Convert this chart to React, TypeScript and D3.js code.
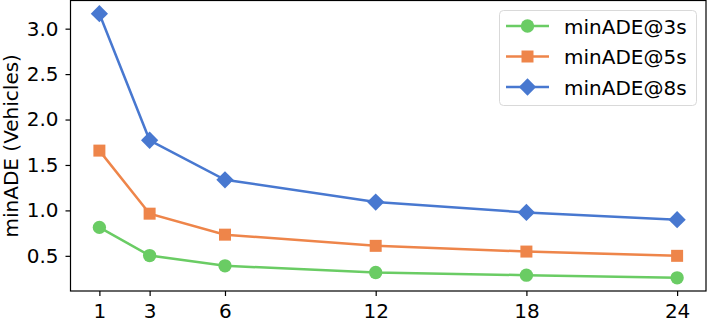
import { useEffect, useRef } from "react";
import * as d3 from "d3";

// horizon values on the x axis
const horizons = [1, 3, 6, 12, 18, 24];
const ade3s = [0.813, 0.503, 0.39, 0.317, 0.287, 0.258];
const ade5s = [1.658, 0.964, 0.733, 0.61, 0.547, 0.5];
const ade8s = [3.165, 1.772, 1.337, 1.092, 0.978, 0.898];
const yTicks = [0.5, 1.0, 1.5, 2.0, 2.5, 3.0];
const seriesNames = ["minADE@3s", "minADE@5s", "minADE@8s"];

const W = 707;
const H = 323;
const FONT = "DejaVu Sans, sans-serif";

export default function App() {
  const ref = useRef<SVGSVGElement>(null);

  useEffect(() => {
    const svg = d3.select(ref.current);
    svg.selectAll("*").remove();

    const left = 70.5, right = 706, top = 0.5, bottom = 291;

    const x = d3.scaleLinear().domain([-0.15, 25.15]).range([left, right]);
    const y = d3.scaleLinear().domain([0.113, 3.31]).range([bottom, top]);

    const series = [
      { name: seriesNames[0], values: ade3s, color: "#6acc64", shape: "circle" },
      { name: seriesNames[1], values: ade5s, color: "#ee854a", shape: "square" },
      { name: seriesNames[2], values: ade8s, color: "#4878d0", shape: "diamond" },
    ];

    const symbolFor = (shape: string) => {
      if (shape === "circle") return d3.symbol(d3.symbolCircle, 140)();
      if (shape === "square") return d3.symbol(d3.symbolSquare, 144)();
      return d3.symbol(d3.symbolDiamond2, 190)();
    };

    const line = d3
      .line<number>()
      .x((_, i) => x(horizons[i]))
      .y((d) => y(d));

    const g = svg.append("g");

    series.forEach((s) => {
      g.append("path")
        .datum(s.values)
        .attr("fill", "none")
        .attr("stroke", s.color)
        .attr("stroke-width", 2.5)
        .attr("d", line);
      g.selectAll(null)
        .data(s.values)
        .enter()
        .append("path")
        .attr("d", symbolFor(s.shape))
        .attr("transform", (d, i) => `translate(${x(horizons[i])},${y(d)})`)
        .attr("fill", s.color);
    });

    // frame
    svg.append("rect")
      .attr("x", left)
      .attr("y", top)
      .attr("width", right - left)
      .attr("height", bottom - top)
      .attr("fill", "none")
      .attr("stroke", "#000")
      .attr("stroke-width", 1.2);

    // x axis
    const xAxis = svg.append("g").attr("transform", `translate(0,${bottom})`);
    xAxis.call(d3.axisBottom(x).tickValues(horizons).tickSize(5).tickPadding(8).tickFormat(d3.format("d")));
    xAxis.select(".domain").remove();
    xAxis.selectAll("text").attr("font-size", 20).attr("font-family", FONT).attr("fill", "#000");
    xAxis.selectAll("line").attr("stroke", "#000").attr("stroke-width", 1.2);

    const yAxis = svg.append("g").attr("transform", `translate(${left},0)`);
    yAxis.call(d3.axisLeft(y).tickValues(yTicks).tickSize(5).tickPadding(7).tickFormat(d3.format(".1f")));
    yAxis.select(".domain").remove();
    yAxis.selectAll("text").attr("font-size", 20).attr("font-family", FONT).attr("fill", "#000");
    yAxis.selectAll("line").attr("stroke", "#000").attr("stroke-width", 1.2);

    svg.append("text")
      .attr("transform", `translate(17.5,${(top + bottom) / 2}) rotate(-90)`)
      .attr("text-anchor", "middle")
      .attr("font-size", 20)
      .attr("font-family", FONT)
      .text("minADE (Vehicles)");

    // legend
    const lg = svg.append("g");
    lg.append("rect")
      .attr("x", 499.5)
      .attr("y", 10.5)
      .attr("width", 197)
      .attr("height", 95)
      .attr("rx", 4)
      .attr("fill", "#fff")
      .attr("fill-opacity", 0.8)
      .attr("stroke", "#d9d9d9")
      .attr("stroke-width", 1);

    series.forEach((s, i) => {
      const yy = 26 + i * 30.5;
      lg.append("line")
        .attr("x1", 506).attr("x2", 549)
        .attr("y1", yy).attr("y2", yy)
        .attr("stroke", s.color).attr("stroke-width", 2.5);
      lg.append("path")
        .attr("d", symbolFor(s.shape))
        .attr("transform", `translate(527.5,${yy})`)
        .attr("fill", s.color);
      lg.append("text")
        .attr("x", 564)
        .attr("y", yy + 7.5)
        .attr("font-size", 20)
        .attr("font-family", FONT)
        .text(s.name);
    });
  }, []);

  return <svg ref={ref} width={W} height={H} style={{ display: "block", position: "absolute", left: 0, top: 0 }} />;
}
